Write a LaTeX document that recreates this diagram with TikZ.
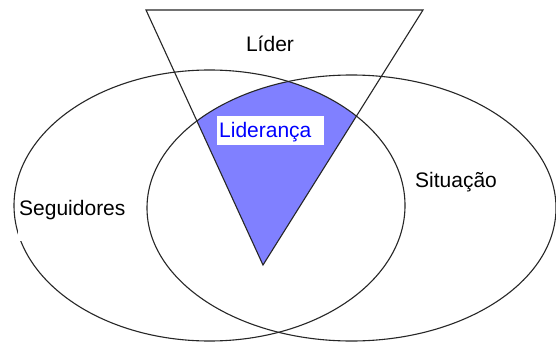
\documentclass[tikz,border=0pt]{standalone}
\usepackage{fontspec}
\setmainfont{Liberation Sans}
\definecolor{regionblue}{HTML}{8080FF}
\definecolor{textblue}{HTML}{0000FF}
\begin{document}
\begin{tikzpicture}[x=1pt,y=-1pt,
  outline/.style={draw=black!85, line width=1.1pt},
  lbl/.style={inner sep=0pt, font=\fontsize{21}{25}\selectfont}]
\useasboundingbox (0,0) rectangle (556,345);
\fill[white] (0,0) rectangle (556,345);
% coordinates of the triangle
\coordinate (tl) at (146,10);
\coordinate (tr) at (423,10);
\coordinate (tb) at (263,265);
% blue intersection region
\begin{scope}
  \clip (tl) -- (tr) -- (tb) -- cycle;
  \clip (209.5,205.5) ellipse [x radius=195.5pt, y radius=135.5pt];
  \fill[regionblue] (351.5,208) ellipse [x radius=204.5pt, y radius=133pt];
\end{scope}
% outlines
\draw[outline] (209.5,205.5) ellipse [x radius=195.5pt, y radius=135.5pt];
\draw[outline] (351.5,208) ellipse [x radius=204.5pt, y radius=133pt];
\draw[outline, line join=miter] (tl) -- (tr) -- (tb) -- cycle;
% labels
\node[lbl, anchor=base] (lider) at (270,52) {Líder};
\node[fill=white, inner sep=0pt, minimum width=107pt, minimum height=29pt] (lbox) at (270.5,130.5) {};
\node[lbl, anchor=base west, text=textblue] (lideranca) at (219,137) {Liderança};
\node[fill=white, inner sep=0pt, minimum width=108pt, minimum height=50pt, anchor=north west] (sbox) at (18,191) {};
\node[lbl, anchor=base west] (seguidores) at (19,215) {Seguidores};
\node[lbl, anchor=base west] (situacao) at (415,187) {Situação};
\end{tikzpicture}
\end{document}
